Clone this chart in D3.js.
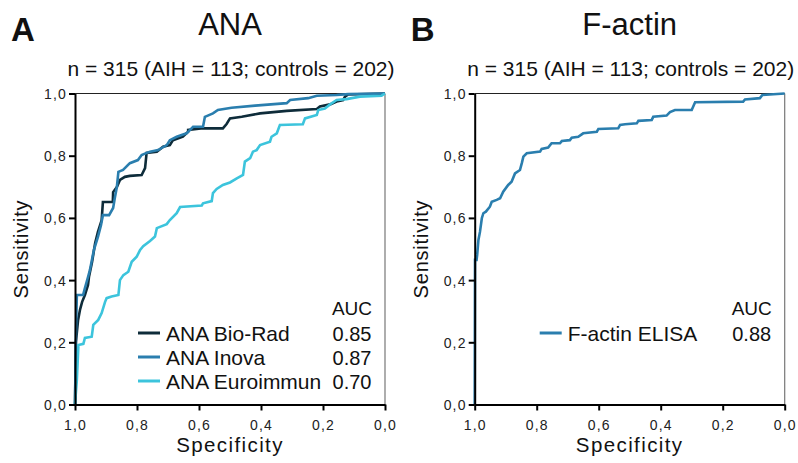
<!DOCTYPE html>
<html><head><meta charset="utf-8">
<script src="https://cdn.jsdelivr.net/npm/d3@7"></script>
<style>body{margin:0;background:#fff}svg{display:block;font-family:"Liberation Sans",Arial,sans-serif}</style>
</head><body><svg id="c" width="798" height="463"></svg>
<script>
// ---- data: [specificity, sensitivity]
const bioRad = [[1,0],[0.997,0.201],[0.990,0.272],[0.984,0.304],[0.977,0.330],[0.968,0.352],[0.958,0.384],[0.955,0.410],[0.945,0.458],[0.935,0.519],[0.926,0.555],[0.914,0.593],[0.910,0.651],[0.878,0.651],[0.877,0.683],[0.865,0.699],[0.855,0.722],[0.839,0.732],[0.823,0.735],[0.785,0.738],[0.774,0.760],[0.769,0.809],[0.736,0.813],[0.716,0.829],[0.694,0.834],[0.684,0.850],[0.652,0.861],[0.635,0.877],[0.635,0.883],[0.587,0.888],[0.523,0.888],[0.511,0.902],[0.500,0.920],[0.462,0.925],[0.403,0.936],[0.317,0.944],[0.220,0.950],[0.210,0.958],[0.177,0.965],[0.156,0.974],[0.135,0.979],[0.129,0.990],[0.119,0.997],[0,1]];
const inova = [[1,0],[0.997,0.223],[0.994,0.352],[0.974,0.352],[0.968,0.374],[0.958,0.410],[0.952,0.432],[0.939,0.497],[0.926,0.539],[0.916,0.577],[0.910,0.609],[0.890,0.609],[0.877,0.632],[0.871,0.667],[0.865,0.699],[0.860,0.748],[0.845,0.754],[0.823,0.776],[0.797,0.786],[0.785,0.802],[0.769,0.809],[0.758,0.813],[0.732,0.818],[0.704,0.834],[0.694,0.850],[0.672,0.861],[0.640,0.872],[0.619,0.893],[0.587,0.893],[0.581,0.925],[0.555,0.936],[0.539,0.947],[0.495,0.954],[0.419,0.961],[0.317,0.969],[0.306,0.979],[0.248,0.985],[0.220,0.993],[0.156,0.995],[0.119,0.998],[0,1]];
const euroimmun = [[1,0],[0.994,0.079],[0.989,0.191],[0.973,0.195],[0.968,0.214],[0.946,0.218],[0.941,0.256],[0.925,0.272],[0.914,0.294],[0.903,0.330],[0.898,0.342],[0.882,0.347],[0.860,0.352],[0.855,0.400],[0.844,0.416],[0.828,0.427],[0.817,0.459],[0.801,0.475],[0.790,0.497],[0.780,0.509],[0.758,0.526],[0.742,0.540],[0.736,0.567],[0.704,0.580],[0.694,0.593],[0.672,0.615],[0.661,0.635],[0.591,0.640],[0.587,0.647],[0.559,0.654],[0.555,0.680],[0.543,0.693],[0.523,0.706],[0.500,0.714],[0.478,0.727],[0.458,0.738],[0.452,0.781],[0.435,0.792],[0.426,0.813],[0.414,0.818],[0.403,0.834],[0.371,0.845],[0.366,0.861],[0.349,0.872],[0.339,0.899],[0.265,0.901],[0.258,0.920],[0.220,0.931],[0.215,0.947],[0.194,0.952],[0.177,0.965],[0.156,0.979],[0.124,0.982],[0.081,0.990],[0.011,0.993],[0,1]];
const fActin = [[1,0],[0.999,0.465],[0.994,0.465],[0.992,0.481],[0.988,0.529],[0.983,0.555],[0.977,0.599],[0.972,0.615],[0.964,0.620],[0.951,0.636],[0.945,0.652],[0.929,0.658],[0.918,0.663],[0.908,0.684],[0.892,0.706],[0.881,0.716],[0.870,0.743],[0.854,0.754],[0.848,0.776],[0.843,0.797],[0.832,0.808],[0.789,0.813],[0.784,0.822],[0.763,0.826],[0.752,0.840],[0.725,0.840],[0.719,0.847],[0.693,0.850],[0.687,0.858],[0.666,0.861],[0.650,0.872],[0.606,0.877],[0.601,0.886],[0.537,0.888],[0.531,0.899],[0.515,0.901],[0.477,0.904],[0.472,0.912],[0.429,0.915],[0.424,0.925],[0.381,0.929],[0.370,0.940],[0.354,0.947],[0.300,0.947],[0.289,0.972],[0.134,0.974],[0.128,0.981],[0.080,0.985],[0.072,0.995],[0,1]];

const tickValues = [1.0,0.8,0.6,0.4,0.2,0.0];
const tickLabels = ["1,0","0,8","0,6","0,4","0,2","0,0"];
const seriesA = ["ANA Bio-Rad","ANA Inova","ANA Euroimmun"];
const aucA = ["0.85","0.87","0.70"];
const seriesB = ["F-actin ELISA"];
const aucB = ["0.88"];
const colors = {"ANA Bio-Rad":"#0e2c3a","ANA Inova":"#2a7eae","ANA Euroimmun":"#3cc4dc","F-actin ELISA":"#2a7eae"};

const svg = d3.select("#c");
const fmt = v => tickLabels[tickValues.indexOf(v)];

function panel(x0, letter, title, names, aucs, datas) {
  const x = d3.scaleLinear().domain([1,0]).range([x0, x0+310]);
  const y = d3.scaleLinear().domain([0,1]).range([404.5, 93.5]);
  const g = svg.append("g");
  g.append("line").attr("x1",x(1)).attr("x2",x(0)).attr("y1",y(1)).attr("y2",y(1)).attr("stroke","#222").attr("stroke-width",1.2);
  g.append("line").attr("x1",x(0)).attr("x2",x(0)).attr("y1",y(1)).attr("y2",y(0)).attr("stroke","#777").attr("stroke-width",1.2);
  const line = d3.line().x(d=>x(d[0])).y(d=>y(d[1]));
  datas.forEach((d,i)=>{
    g.append("path").attr("d",line(d)).attr("fill","none").attr("stroke",colors[names[i]]).attr("stroke-width",2.6).attr("stroke-linejoin","miter");
  });
  const ax = g.append("g").attr("transform",`translate(0,${y(0)})`)
    .call(d3.axisBottom(x).tickValues(tickValues).tickFormat(fmt).tickSize(6).tickSizeOuter(0));
  const ay = g.append("g").attr("transform",`translate(${x(1)},0)`)
    .call(d3.axisLeft(y).tickValues(tickValues.slice().reverse()).tickFormat(fmt).tickSize(6).tickSizeOuter(0));
  [ax,ay].forEach(a=>{
    a.select(".domain").attr("stroke","#000").attr("stroke-width",2);
    a.selectAll(".tick line").attr("stroke","#000").attr("stroke-width",2);
    a.selectAll("text").attr("font-size",14).attr("fill","#222").style("letter-spacing","1.2px").attr("font-family","Liberation Sans, Arial");
  });
  ax.selectAll("text").attr("dy","1.15em");
  ay.selectAll("text").attr("x",-8).attr("dy","0.35em");
  g.append("text").attr("x",x(0.5)).attr("y",452).attr("text-anchor","middle").attr("font-size",20.5).style("letter-spacing","1.4px").attr("fill","#111").text("Specificity");
  g.append("text").attr("transform",`translate(${x0-47},${y(0.5)}) rotate(-90)`).attr("text-anchor","middle").attr("font-size",20).style("letter-spacing","0.8px").attr("fill","#111").text("Sensitivity");
  g.append("text").attr("x",x0-64).attr("y",41).attr("font-size",33).attr("font-weight","bold").attr("fill","#111").text(letter);
  g.append("text").attr("x",x(0.5)).attr("y",35).attr("text-anchor","middle").attr("font-size",31).attr("fill","#111").text(title);
  g.append("text").attr("x",x(0.5)+1).attr("y",76).attr("text-anchor","middle").attr("font-size",21).attr("fill","#111").text("n = 315 (AIH = 113; controls = 202)");
  const lx = names.length===3 ? x0+63 : x0+65;
  g.append("text").attr("x",x0+277).attr("y",315).attr("text-anchor","middle").attr("font-size",19).attr("fill","#111").text("AUC");
  names.forEach((n,i)=>{
    const yy = 333 + i*24;
    g.append("line").attr("x1",lx).attr("x2",lx+22).attr("y1",yy).attr("y2",yy).attr("stroke",colors[n]).attr("stroke-width",3);
    g.append("text").attr("x",lx+28).attr("y",yy+7.5).attr("font-size",21).attr("fill","#111").text(n);
    g.append("text").attr("x",x0+277).attr("y",yy+7.5).attr("text-anchor","middle").attr("font-size",20).attr("fill","#111").text(aucs[i]);
  });
}
panel(75,"A","ANA",seriesA,aucA,[bioRad,inova,euroimmun]);
panel(474.7,"B","F-actin",seriesB,aucB,[fActin]);
</script></body></html>
